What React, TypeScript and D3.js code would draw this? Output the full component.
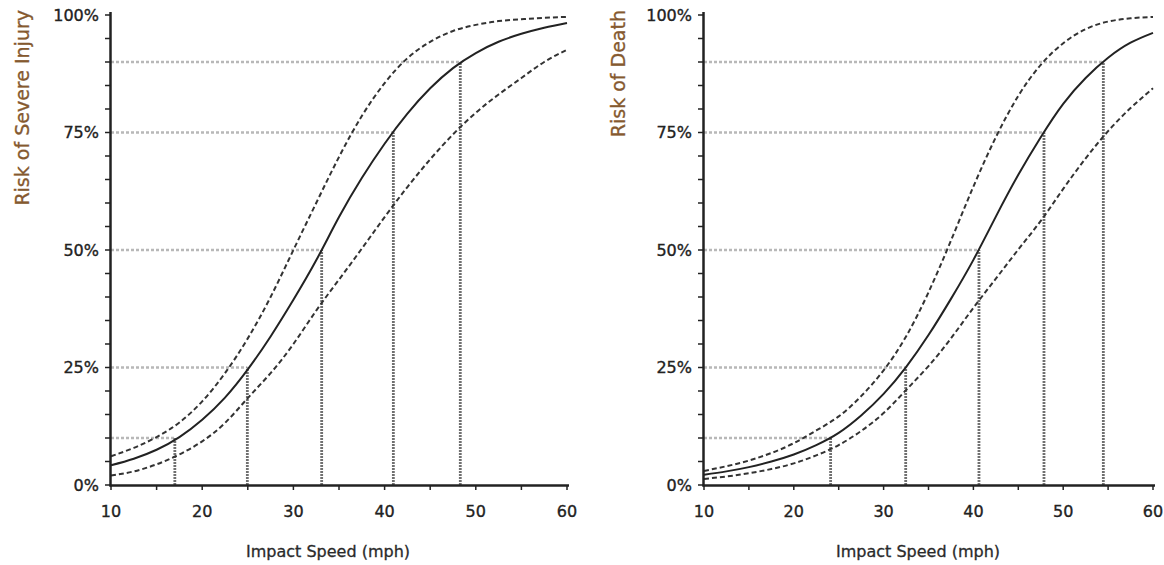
import React from "react";
import * as d3 from "d3";

const speeds = [10, 12.5, 15, 17.5, 20, 22.5, 25, 27.5, 30, 32.5, 35, 37.5, 40, 42.5, 45, 47.5, 50, 52.5, 55, 57.5, 60];

const injuryFit = [4.2, 5.6, 7.5, 10.2, 13.9, 18.6, 24.6, 31.6, 39.4, 47.8, 57.0, 65.3, 72.6, 79.0, 84.4, 88.7, 91.9, 94.3, 96.0, 97.3, 98.3];
const injuryUpper = [6.1, 7.9, 10.2, 13.3, 17.8, 23.8, 31.2, 40.0, 50.0, 60.0, 69.8, 78.5, 85.5, 90.8, 94.3, 96.6, 97.9, 98.7, 99.1, 99.4, 99.6];
const injuryLower = [2.0, 2.9, 4.4, 6.5, 9.3, 13.2, 18.5, 23.8, 30.0, 37.1, 43.7, 50.3, 57.0, 63.4, 69.3, 74.6, 79.2, 83.1, 86.6, 90.0, 92.6];

const deathFit = [2.2, 2.9, 3.8, 5.0, 6.5, 8.5, 11.1, 14.8, 19.4, 25.1, 31.9, 39.6, 47.9, 57.1, 66.0, 74.0, 81.1, 86.6, 90.9, 94.1, 96.2];
const deathUpper = [3.0, 4.0, 5.2, 6.8, 8.9, 11.6, 14.6, 18.9, 24.4, 31.6, 41.0, 52.0, 63.5, 74.0, 82.8, 89.4, 94.0, 97.0, 98.6, 99.3, 99.6];
const deathLower = [1.3, 1.8, 2.5, 3.4, 4.6, 6.3, 8.5, 11.5, 15.3, 20.2, 25.3, 31.2, 37.7, 43.9, 50.1, 56.2, 63.0, 69.5, 75.3, 80.2, 84.4];

const refLevels = [10, 25, 50, 75, 90];
const injuryRefSpeeds = [17.0, 24.95, 33.1, 40.96, 48.3];
const deathRefSpeeds = [24.1, 32.46, 40.62, 47.86, 54.47];

const xTickLabels = [10, 20, 30, 40, 50, 60];
const xMinorTicks = [10, 15, 20, 25, 30, 35, 40, 45, 50, 55, 60];
const yTickLabels = [0, 25, 50, 75, 100];
const yMinorTicks = d3.range(0, 101, 5);

const FONT = "'DejaVu Sans', Verdana, sans-serif";

type PanelProps = {
  x0: number;
  x1: number;
  yTitle: string;
  fit: number[];
  upper: number[];
  lower: number[];
  refSpeeds: number[];
  xTitleX: number;
  yTitleX: number;
};

function Panel({ x0, x1, yTitle, fit, upper, lower, refSpeeds, xTitleX, yTitleX }: PanelProps) {
  const x = d3.scaleLinear().domain([10, 60]).range([x0, x1]);
  const y = d3.scaleLinear().domain([0, 100]).range([485, 15]);
  const line = d3
    .line<number>()
    .x((_, i) => x(speeds[i]))
    .y((d) => y(d))
    .curve(d3.curveNatural);

  return (
    <g>
      {refLevels.map((lv, i) => (
        <line
          key={"h" + i}
          x1={x0}
          x2={x(refSpeeds[i])}
          y1={y(lv)}
          y2={y(lv)}
          stroke="#b8b8b8"
          strokeWidth={2.5}
          strokeDasharray="3,2"
        />
      ))}
      {refSpeeds.map((s, i) => (
        <line
          key={"v" + i}
          x1={x(s)}
          x2={x(s)}
          y1={y(0)}
          y2={y(refLevels[i])}
          stroke="#707070"
          strokeWidth={2.8}
          strokeDasharray="2,1"
        />
      ))}
      <path d={line(upper) || ""} fill="none" stroke="#333" strokeWidth={2} strokeDasharray="5,3" />
      <path d={line(lower) || ""} fill="none" stroke="#333" strokeWidth={2} strokeDasharray="5,3" />
      <path d={line(fit) || ""} fill="none" stroke="#222" strokeWidth={2} />
      <line x1={x0 - 0.5} x2={x0 - 0.5} y1={12} y2={486.5} stroke="#222" strokeWidth={2.5} />
      <line x1={x0 - 1.5} x2={x1 + 2} y1={485.5} y2={485.5} stroke="#222" strokeWidth={2.5} />
      {yMinorTicks.map((t) => (
        <line key={"yt" + t} x1={x0 - 6} x2={x0} y1={y(t)} y2={y(t)} stroke="#222" strokeWidth={1.5} />
      ))}
      {xMinorTicks.map((t) => (
        <line key={"xt" + t} x1={x(t)} x2={x(t)} y1={485} y2={490} stroke="#222" strokeWidth={1.5} />
      ))}
      {yTickLabels.map((t) => (
        <text
          key={"yl" + t}
          x={x0 - 12}
          y={y(t)}
          dy="0.36em"
          textAnchor="end"
          fontFamily={FONT}
          fontSize={16}
          fill="#222"
          stroke="#222"
          strokeWidth={0.35}
        >
          {t + "%"}
        </text>
      ))}
      {xTickLabels.map((t) => (
        <text
          key={"xl" + t}
          x={x(t)}
          y={517}
          textAnchor="middle"
          fontFamily={FONT}
          fontSize={16}
          fill="#222"
          stroke="#222"
          strokeWidth={0.35}
        >
          {t}
        </text>
      ))}
      <text
        x={xTitleX}
        y={557}
        textAnchor="middle"
        fontFamily={FONT}
        fontSize={16}
        fill="#2a2a2a"
        stroke="#2a2a2a"
        strokeWidth={0.3}
      >
        Impact Speed (mph)
      </text>
      <text
        transform={`translate(${yTitleX},10) rotate(-90)`}
        textAnchor="end"
        fontFamily={FONT}
        fontSize={19}
        fill="#85592f"
        stroke="#85592f"
        strokeWidth={0.3}
      >
        {yTitle}
      </text>
    </g>
  );
}

export default function App() {
  return (
    <svg
      width={1164}
      height={565}
      style={{ position: "absolute", left: 0, top: 0, background: "#fff" }}
    >
      <Panel
        x0={111}
        x1={567}
        yTitle="Risk of Severe Injury"
        fit={injuryFit}
        upper={injuryUpper}
        lower={injuryLower}
        refSpeeds={injuryRefSpeeds}
        xTitleX={328}
        yTitleX={29}
      />
      <Panel
        x0={704}
        x1={1153}
        yTitle="Risk of Death"
        fit={deathFit}
        upper={deathUpper}
        lower={deathLower}
        refSpeeds={deathRefSpeeds}
        xTitleX={918}
        yTitleX={625}
      />
    </svg>
  );
}
